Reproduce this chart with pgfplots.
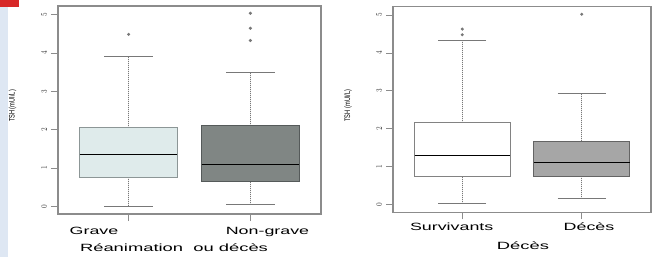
\documentclass[border=0pt]{standalone}
\usepackage{pgfplots}
\pgfplotsset{compat=1.18}
\usepgfplotslibrary{statistics}
\usepackage{fontspec}
\setmainfont{Liberation Sans}
\usepackage{graphicx}

\definecolor{gravefill}{RGB}{223,235,235}
\definecolor{graveedge}{RGB}{140,150,150}
\definecolor{ngfill}{RGB}{128,134,132}
\definecolor{ngedge}{RGB}{85,90,90}
\definecolor{survedge}{RGB}{130,130,130}
\definecolor{decfill}{RGB}{166,166,166}
\definecolor{decedge}{RGB}{100,100,100}
\definecolor{framegray}{RGB}{140,140,140}
\definecolor{whiskgray}{RGB}{120,120,120}
\definecolor{stripblue}{RGB}{222,231,243}
\definecolor{topred}{RGB}{215,40,40}

\pgfplotsset{
  boxplot/draw/lower whisker/.code={
    \draw[whiskgray, line width=1.3pt, dash pattern=on 1pt off 1pt]
      (boxplot box cs:\pgfplotsboxplotvalue{lower whisker},0.5) --
      (boxplot box cs:\pgfplotsboxplotvalue{lower quartile},0.5);
    \draw[whiskgray, line width=0.9pt]
      (boxplot box cs:\pgfplotsboxplotvalue{lower whisker},0.25) --
      (boxplot box cs:\pgfplotsboxplotvalue{lower whisker},0.75);
  },
  boxplot/draw/upper whisker/.code={
    \draw[whiskgray, line width=1.3pt, dash pattern=on 1pt off 1pt]
      (boxplot box cs:\pgfplotsboxplotvalue{upper whisker},0.5) --
      (boxplot box cs:\pgfplotsboxplotvalue{upper quartile},0.5);
    \draw[whiskgray, line width=0.9pt]
      (boxplot box cs:\pgfplotsboxplotvalue{upper whisker},0.25) --
      (boxplot box cs:\pgfplotsboxplotvalue{upper whisker},0.75);
  },
  boxplot/every median/.style={black, line width=1.3pt},
  rpanel/.style={
    scale only axis,
    anchor=south west,
    xmin=0.42, xmax=2.58,
    ymin=-0.2, ymax=5.23,
    xtick={1,2},
    xticklabels={},
    ytick={0,1,2,3,4,5},
    xtick pos=bottom,
    ytick pos=left,
    tick align=outside,
    major tick length=7pt,
    tick style={framegray, line width=0.8pt},
    axis line style={framegray, line width=1.3pt},
    yticklabel={\scalebox{1}[1.4]{\pgfmathprintnumber{\tick}}},
    yticklabel style={font=\fontsize{6.5}{7}\selectfont, rotate=90, anchor=south,
      inner xsep=0pt, inner ysep=4pt, text=black!80},
    boxplot/draw direction=y,
    boxplot/box extend=0.8,
  },
}

\begin{document}
\begin{tikzpicture}
\useasboundingbox (0pt,0pt) rectangle (652pt,257pt);
\fill[stripblue] (0pt,0pt) rectangle (8pt,250.3pt);
\fill[topred] (0pt,250.3pt) rectangle (19pt,257pt);

% Left panel
\begin{axis}[rpanel, at={(58pt,43pt)}, width=263pt, height=208pt]
\addplot[boxplot prepared={lower whisker=0.0, lower quartile=0.755, median=1.35,
  upper quartile=2.05, upper whisker=3.9, draw position=1},
  fill=gravefill, draw=graveedge, line width=1pt,
  mark=*, mark size=1pt, mark options={fill=whiskgray, draw=whiskgray}]
  coordinates {(0,4.49)};
\addplot[boxplot prepared={lower whisker=0.04, lower quartile=0.65, median=1.10,
  upper quartile=2.10, upper whisker=3.49, draw position=2},
  fill=ngfill, draw=ngedge, line width=1pt,
  mark=*, mark size=1pt, mark options={fill=whiskgray, draw=whiskgray}]
  coordinates {(0,4.33) (0,4.65) (0,5.04)};
\end{axis}

% Right panel
\begin{axis}[rpanel, at={(393pt,44.7pt)}, width=258pt, height=206pt]
\addplot[boxplot prepared={lower whisker=0.03, lower quartile=0.735, median=1.295,
  upper quartile=2.17, upper whisker=4.33, draw position=1},
  fill=white, draw=survedge, line width=1pt,
  mark=*, mark size=1pt, mark options={fill=whiskgray, draw=whiskgray}]
  coordinates {(0,4.48) (0,4.63)};
\addplot[boxplot prepared={lower whisker=0.16, lower quartile=0.735, median=1.12,
  upper quartile=1.66, upper whisker=2.93, draw position=2},
  fill=decfill, draw=decedge, line width=1pt,
  mark=*, mark size=1pt, mark options={fill=whiskgray, draw=whiskgray}]
  coordinates {(0,5.02)};
\end{axis}

% Labels
\node[rotate=90, font=\fontsize{5.7}{7}\selectfont] at (12.5pt,151pt) {\scalebox{1}[1.4]{TSH (mUI/L)}};
\node[rotate=90, font=\fontsize{5.7}{7}\selectfont] at (348pt,151.5pt) {\scalebox{1}[1.4]{TSH (mUI/L)}};

\node[anchor=base, font=\fontsize{10.5}{12}\selectfont, inner sep=0pt] at (94pt,22.7pt) {\scalebox{1.7}[1]{Grave}};
\node[anchor=base, font=\fontsize{10.5}{12}\selectfont, inner sep=0pt] at (267.5pt,22.7pt) {\scalebox{1.7}[1]{Non-grave}};
\node[anchor=base, font=\fontsize{10.5}{12}\selectfont, inner sep=0pt] at (174pt,5.5pt) {\scalebox{1.75}[1]{Réanimation\ \ ou décès}};

\node[anchor=base, font=\fontsize{10.5}{12}\selectfont, inner sep=0pt] at (451.7pt,26.3pt) {\scalebox{1.7}[1]{Survivants}};
\node[anchor=base, font=\fontsize{10.5}{12}\selectfont, inner sep=0pt] at (589pt,26.3pt) {\scalebox{1.7}[1]{Décès}};
\node[anchor=base, font=\fontsize{10.5}{12}\selectfont, inner sep=0pt] at (523pt,7.7pt) {\scalebox{1.75}[1]{Décès}};
\end{tikzpicture}
\end{document}
